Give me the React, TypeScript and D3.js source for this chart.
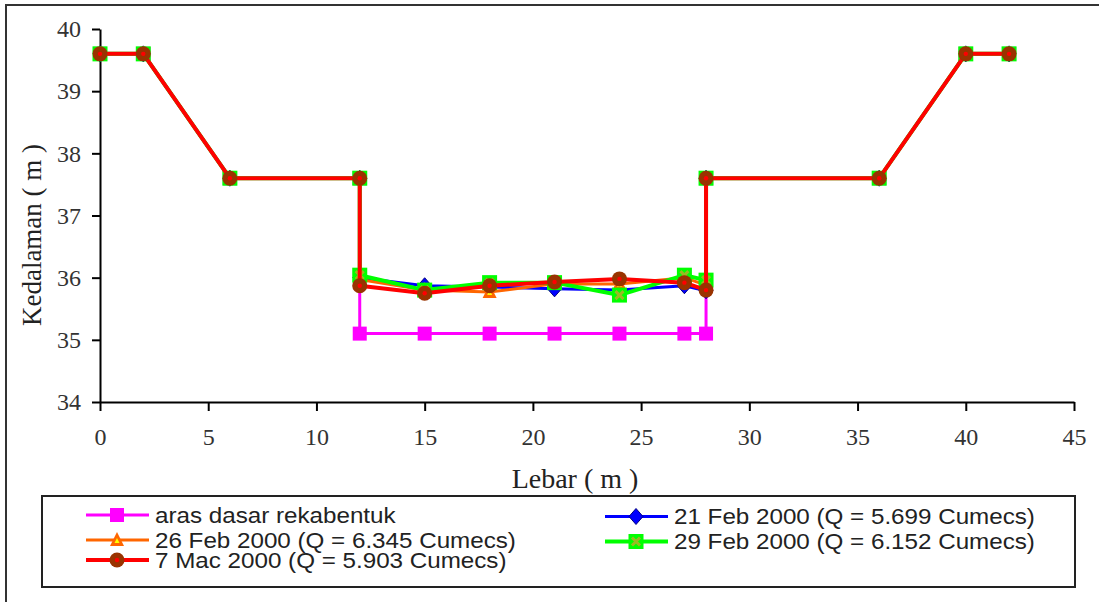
import { useEffect, useRef } from 'react';
import * as d3 from 'd3';

// Lebar (m) positions of the cross-section survey points
const lebar = [0, 2, 6, 12, 12, 15, 18, 21, 24, 27, 28, 28, 36, 40, 42];

const arasDasar = [39.6, 39.6, 37.6, 37.6, 35.1, 35.1, 35.1, 35.1, 35.1, 35.1, 35.1, 37.6, 37.6, 39.6, 39.6];
const feb21 = [39.6, 39.6, 37.6, 37.6, 36.0, 35.87, 35.85, 35.82, 35.8, 35.87, 35.79, 37.6, 37.6, 39.6, 39.6];
const feb26 = [39.6, 39.6, 37.6, 37.6, 35.97, 35.8, 35.77, 35.9, 35.9, 36.0, 35.88, 37.6, 37.6, 39.6, 39.6];
const feb29 = [39.6, 39.6, 37.6, 37.6, 36.04, 35.8, 35.92, 35.92, 35.72, 36.04, 35.96, 37.6, 37.6, 39.6, 39.6];
const mac7 = [39.6, 39.6, 37.6, 37.6, 35.87, 35.75, 35.87, 35.93, 35.98, 35.92, 35.8, 37.6, 37.6, 39.6, 39.6];

const xTicks = [0, 5, 10, 15, 20, 25, 30, 35, 40, 45];
const yTicks = [34, 35, 36, 37, 38, 39, 40];

type Marker = 'square' | 'diamond' | 'triangle' | 'squareX' | 'circle';

const series = [
  { name: 'aras dasar rekabentuk', values: arasDasar, color: '#ff00ff', width: 3, marker: 'square' as Marker },
  { name: '21 Feb 2000 (Q = 5.699 Cumecs)', values: feb21, color: '#0000ff', width: 3, marker: 'diamond' as Marker },
  { name: '26 Feb 2000 (Q = 6.345 Cumecs)', values: feb26, color: '#ff6600', width: 3, marker: 'triangle' as Marker },
  { name: '29 Feb 2000 (Q = 6.152 Cumecs)', values: feb29, color: '#00ff00', width: 4, marker: 'squareX' as Marker },
  { name: '7 Mac 2000 (Q = 5.903 Cumecs)', values: mac7, color: '#ff0000', width: 4, marker: 'circle' as Marker },
];

// legend placement: [column, row]
const legendSlots = [[0, 0], [1, 0], [0, 1], [1, 1], [0, 2]];

function drawMarker(g: d3.Selection<SVGGElement, unknown, null, undefined>, type: Marker, cx: number, cy: number) {
  if (type === 'square') {
    g.append('rect').attr('x', cx - 7).attr('y', cy - 7).attr('width', 14).attr('height', 14).attr('fill', '#ff00ff');
  } else if (type === 'diamond') {
    g.append('path')
      .attr('d', `M${cx},${cy - 8}L${cx + 7},${cy}L${cx},${cy + 8}L${cx - 7},${cy}Z`)
      .attr('fill', '#0000ff').attr('stroke', '#000080').attr('stroke-width', 1);
  } else if (type === 'triangle') {
    g.append('path')
      .attr('d', `M${cx},${cy - 8}L${cx + 7},${cy + 6}L${cx - 7},${cy + 6}Z`)
      .attr('fill', '#ff6600');
    g.append('path')
      .attr('d', `M${cx},${cy - 2}L${cx + 2.5},${cy + 3}L${cx - 2.5},${cy + 3}Z`)
      .attr('fill', '#ffff00');
  } else if (type === 'squareX') {
    g.append('rect').attr('x', cx - 7.5).attr('y', cy - 7.5).attr('width', 15).attr('height', 15).attr('fill', '#00ff00');
    g.append('path')
      .attr('d', `M${cx - 4},${cy - 4}L${cx + 4},${cy + 4}M${cx + 4},${cy - 4}L${cx - 4},${cy + 4}`)
      .attr('stroke', '#99bb22').attr('stroke-width', 3);
  } else {
    g.append('circle').attr('cx', cx).attr('cy', cy).attr('r', 7.5).attr('fill', '#993300');
    g.append('circle').attr('cx', cx).attr('cy', cy).attr('r', 2.2).attr('fill', '#ff0000');
  }
}

export default function App() {
  const svgRef = useRef<SVGSVGElement>(null);
  const width = 1099;
  const height = 602;

  useEffect(() => {
    if (!svgRef.current) return;
    const svg = d3.select(svgRef.current);
    svg.selectAll('*').remove();

    // outer chart frame
    svg.append('rect')
      .attr('x', 6).attr('y', 5).attr('width', 1110).attr('height', 620)
      .attr('fill', 'white').attr('stroke', '#333').attr('stroke-width', 2);

    const x = d3.scaleLinear().domain([0, 45]).range([100, 1074]);
    const y = d3.scaleLinear().domain([34, 40]).range([402, 29]);

    const serif = '"Liberation Serif", "Times New Roman", serif';
    const sans = '"Liberation Sans", Arial, sans-serif';

    // Y axis
    const yAxis = svg.append('g')
      .attr('transform', `translate(${x(0)},0)`)
      .call(d3.axisLeft(y).tickValues(yTicks).tickSize(8).tickPadding(11).tickSizeOuter(0).tickFormat(d3.format('d')));
    yAxis.select('.domain').attr('stroke', '#000').attr('stroke-width', 2);
    yAxis.selectAll('line').attr('stroke', '#000').attr('stroke-width', 2);
    yAxis.selectAll('text').style('font-family', serif).style('font-size', '24px').style('fill', '#333');

    // X axis
    const xAxis = svg.append('g')
      .attr('transform', `translate(0,${y(34)})`)
      .call(d3.axisBottom(x).tickValues(xTicks).tickSize(9).tickPadding(17).tickSizeOuter(0).tickFormat(d3.format('d')));
    xAxis.select('.domain').attr('stroke', '#000').attr('stroke-width', 2);
    xAxis.selectAll('line').attr('stroke', '#000').attr('stroke-width', 2);
    xAxis.selectAll('text').style('font-family', serif).style('font-size', '24px').style('fill', '#333');

    // axis titles
    svg.append('text')
      .attr('x', 575).attr('y', 478).attr('dy', '0.35em')
      .attr('text-anchor', 'middle')
      .style('font-family', serif).style('font-size', '28px').style('fill', '#222')
      .text('Lebar ( m )');

    svg.append('text')
      .attr('transform', `translate(32,235) rotate(-90)`)
      .attr('dy', '0.35em')
      .attr('text-anchor', 'middle')
      .style('font-family', serif).style('font-size', '27px').style('fill', '#222')
      .text('Kedalaman ( m )');

    // lines
    const line = d3.line<number>()
      .x((_, i) => x(lebar[i]))
      .y(d => y(d));

    series.forEach(s => {
      svg.append('path')
        .datum(s.values)
        .attr('d', line)
        .attr('fill', 'none')
        .attr('stroke', s.color)
        .attr('stroke-width', s.width)
        .attr('stroke-linejoin', 'round');
      const mg = svg.append('g');
      s.values.forEach((v, i) => drawMarker(mg, s.marker, x(lebar[i]), y(v)));
    });

    // legend
    svg.append('rect')
      .attr('x', 42).attr('y', 496).attr('width', 1033).attr('height', 91)
      .attr('fill', 'white').attr('stroke', '#222').attr('stroke-width', 2);

    const colX = [86, 605];
    const rowY = [515, 540, 560];
    series.forEach((s, i) => {
      const [c, r] = legendSlots[i];
      const lx = colX[c];
      const ly = rowY[r] + (c === 1 ? 1.5 : 0);
      const lg = svg.append('g');
      lg.append('line')
        .attr('x1', lx).attr('x2', lx + 63).attr('y1', ly).attr('y2', ly)
        .attr('stroke', s.color).attr('stroke-width', s.width);
      drawMarker(lg, s.marker, lx + 31, ly);
      // legend text is a little wider than the plain font
      lg.append('text')
        .attr('transform', `translate(${lx + 69},${ly}) scale(1.1,1)`)
        .attr('dy', '0.35em')
        .style('font-family', sans).style('font-size', '22px').style('fill', '#222')
        .text(s.name);
    });
  }, []);

  return (
    <svg
      ref={svgRef}
      width={width}
      height={height}
      style={{ position: 'absolute', left: 0, top: 0, background: 'white' }}
    />
  );
}
